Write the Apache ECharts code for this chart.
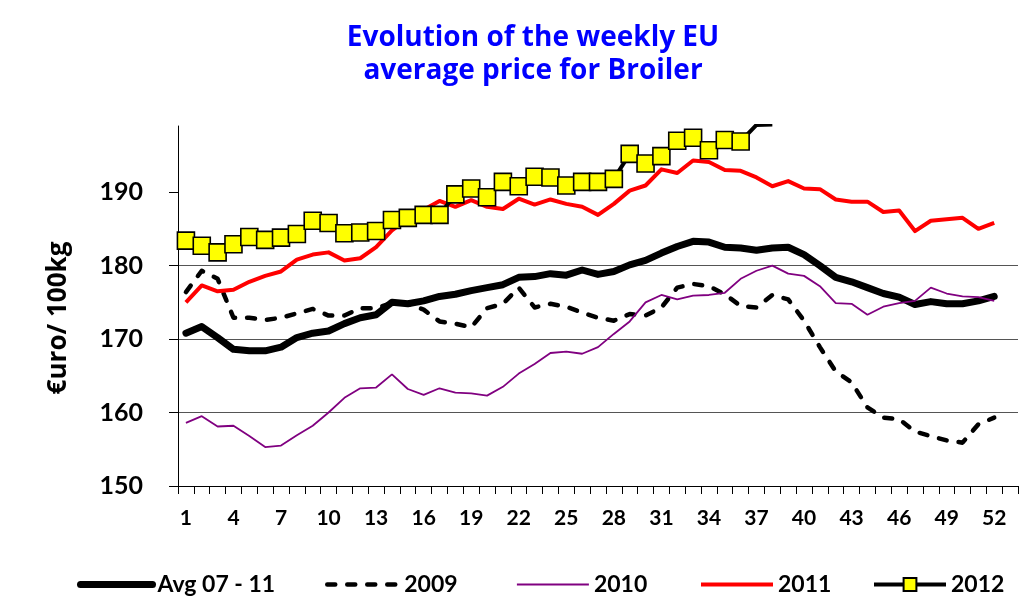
<!DOCTYPE html>
<html>
<head>
<meta charset="utf-8">
<title>Broiler weekly EU price</title>
<script src="https://cdn.jsdelivr.net/npm/echarts@6/dist/echarts.min.js"></script>
<style>
html, body { margin: 0; padding: 0; background: #fff; }
#chart_broiler { width: 1025px; height: 609px; }
</style>
</head>
<body>
<div id="chart_broiler"></div>
<script>
// week numbers (53rd slot is empty, it only pads the axis)
var weeks = ['1','2','3','4','5','6','7','8','9','10','11','12','13','14','15','16','17','18',
  '19','20','21','22','23','24','25','26','27','28','29','30','31','32','33','34','35','36',
  '37','38','39','40','41','42','43','44','45','46','47','48','49','50','51','52','53'];

var yTicks = [150, 160, 170, 180, 190];

var avg0711 = [170.8, 171.7, 170.2, 168.6, 168.4, 168.4, 168.9, 170.2, 170.8, 171.1,
  172.1, 172.9, 173.3, 175.0, 174.8, 175.2, 175.8, 176.1, 176.6, 177.0,
  177.4, 178.4, 178.5, 178.9, 178.7, 179.4, 178.8, 179.2, 180.1, 180.7,
  181.7, 182.6, 183.3, 183.2, 182.5, 182.4, 182.1, 182.4, 182.5, 181.5,
  180.0, 178.4, 177.8, 177.0, 176.2, 175.7, 174.7, 175.1, 174.8, 174.8, 175.2, 175.8];

var y2009 = [176.4, 179.3, 178.2, 172.9, 172.9, 172.6, 172.9, 173.5, 174.1, 173.2,
  173.2, 174.2, 174.2, 174.9, 174.8, 174.0, 172.4, 172.1, 171.6, 174.2,
  174.8, 177.0, 174.3, 174.8, 174.4, 173.6, 172.9, 172.5, 173.4, 173.2,
  174.3, 177.0, 177.5, 177.2, 176.1, 174.5, 174.3, 176.0, 175.4, 172.5,
  168.9, 165.6, 164.1, 160.7, 159.3, 159.1, 157.4, 156.8, 156.2, 155.9, 158.4, 159.3];

var y2010 = [158.6, 159.5, 158.1, 158.2, 156.8, 155.3, 155.5, 156.9, 158.2, 160.0,
  162.0, 163.3, 163.4, 165.2, 163.2, 162.4, 163.3, 162.7, 162.6, 162.3,
  163.5, 165.3, 166.6, 168.1, 168.3, 168.0, 168.9, 170.7, 172.4, 175.0,
  176.0, 175.4, 175.9, 176.0, 176.3, 178.2, 179.3, 180.0, 178.9, 178.6,
  177.2, 174.9, 174.8, 173.3, 174.4, 174.9, 175.2, 177.0, 176.2, 175.8, 175.7, 175.2];

var y2011 = [175.0, 177.3, 176.5, 176.7, 177.8, 178.6, 179.2, 180.8, 181.5, 181.8,
  180.7, 181.0, 182.5, 184.8, 186.4, 187.6, 188.8, 188.0, 188.9, 188.0,
  187.7, 189.1, 188.3, 189.0, 188.4, 188.0, 186.9, 188.4, 190.2, 190.9,
  193.1, 192.6, 194.3, 194.1, 193.0, 192.9, 192.0, 190.8, 191.5, 190.5,
  190.4, 189.0, 188.7, 188.7, 187.3, 187.5, 184.7, 186.1, 186.3, 186.5, 185.0, 185.8];

var y2012 = [183.4, 182.7, 181.8, 182.9, 183.9, 183.5, 183.8, 184.3, 186.1, 185.8,
  184.4, 184.5, 184.7, 186.2, 186.5, 186.9, 186.9, 189.7, 190.5, 189.3,
  191.4, 190.8, 192.1, 192.0, 190.9, 191.4, 191.4, 191.8, 195.2, 193.9,
  194.9, 197.0, 197.4, 195.7, 197.1, 196.9, 199.15, 199.2];

var seriesNames = ['Avg 07 - 11', '2009', '2010', '2011', '2012'];
var legendLeft = [72, 320, 511, 694, 867];

var myChartBroiler = echarts.init(document.getElementById('chart_broiler'));

function drawBroiler(myChart) {
  var fontMain = 'Lato, "DejaVu Sans", sans-serif';
  var fontWide = '"Open Sans", Lato, sans-serif';

  var legends = [];
  for (var k = 0; k < seriesNames.length; k++) {
    var item = { name: seriesNames[k] };
    // plain lines in the legend: hide the default circle marker
    if (k < 4) {
      item.itemStyle = { color: 'rgba(0,0,0,0)', borderWidth: 0 };
    }
    legends.push({
      data: [item],
      left: legendLeft[k],
      top: 568,
      itemWidth: 72,
      itemHeight: 16,
      lineStyle: { width: 'inherit' },
      textStyle: { fontFamily: fontMain, fontWeight: 'bold', fontSize: 23, color: '#000' }
    });
  }

  var option = {
    animation: false,
    backgroundColor: '#fff',
    title: {
      text: 'Evolution of the weekly EU\naverage price for Broiler',
      left: 528,
      top: 17,
      textAlign: 'center',
      textStyle: {
        fontFamily: fontWide,
        fontWeight: 'bold',
        fontSize: 28,
        lineHeight: 33,
        color: '#0000ff'
      }
    },
    legend: legends,
    grid: { left: 178, right: 7, top: 126, bottom: 123 },
    xAxis: {
      type: 'category',
      data: weeks,
      boundaryGap: true,
      axisLine: { lineStyle: { color: '#000', width: 1 } },
      axisTick: { show: true, interval: 0, length: 8, lineStyle: { color: '#000' } },
      axisLabel: {
        interval: 2,
        margin: 22,
        fontFamily: fontMain,
        fontWeight: 'bold',
        fontSize: 21,
        color: '#000'
      },
      splitLine: { show: false }
    },
    yAxis: {
      type: 'value',
      min: 150,
      max: 199,
      interval: 10,
      name: '€uro/ 100kg',
      nameLocation: 'middle',
      nameGap: 106,
      nameTextStyle: {
        fontFamily: fontWide,
        fontWeight: 'bold',
        fontSize: 26,
        color: '#000',
        padding: [0, 24, 0, 0]
      },
      axisLine: { show: true, lineStyle: { color: '#000', width: 1 } },
      axisTick: { show: true, length: 9, customValues: yTicks, lineStyle: { color: '#000' } },
      axisLabel: {
        customValues: yTicks,
        margin: 35,
        fontFamily: fontMain,
        fontWeight: 'bold',
        fontSize: 25,
        color: '#000',
        formatter: function (v) { return v % 10 === 0 ? String(v) : ''; }
      },
      splitLine: { show: true, showMaxLine: false, lineStyle: { color: '#555', width: 1 } }
    },
    series: [
      {
        name: seriesNames[0],
        type: 'line',
        data: avg0711,
        symbol: 'none',
        color: '#000',
        lineStyle: { color: '#000', width: 7, cap: 'round', join: 'round' }
      },
      {
        name: seriesNames[1],
        type: 'line',
        data: y2009,
        symbol: 'none',
        color: '#000',
        lineStyle: { color: '#000', width: 4.5, type: [8, 12], cap: 'round', join: 'round' }
      },
      {
        name: seriesNames[2],
        type: 'line',
        data: y2010,
        symbol: 'none',
        color: '#800080',
        lineStyle: { color: '#800080', width: 1.8 }
      },
      {
        name: seriesNames[3],
        type: 'line',
        data: y2011,
        symbol: 'none',
        color: '#ff0000',
        lineStyle: { color: '#ff0000', width: 4, join: 'round' }
      },
      {
        name: seriesNames[4],
        type: 'line',
        data: y2012,
        symbol: 'rect',
        symbolSize: 17,
        showAllSymbol: true,
        color: '#ffff00',
        itemStyle: { color: '#ffff00', borderColor: '#000', borderWidth: 1.6 },
        lineStyle: { color: '#000', width: 4, join: 'round' }
      }
    ]
  };

  myChart.setOption(option);
}

drawBroiler(myChartBroiler);
</script>
</body>
</html>
